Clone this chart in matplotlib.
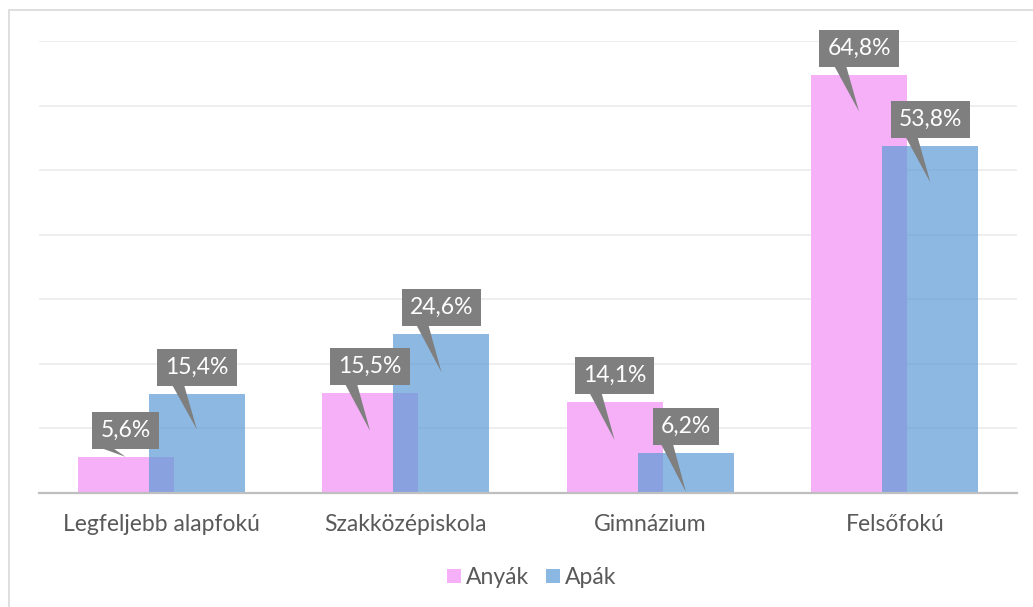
import matplotlib
matplotlib.use("Agg")
import matplotlib.pyplot as plt
from matplotlib.patches import Rectangle, Polygon
from matplotlib.transforms import IdentityTransform
from matplotlib.lines import Line2D
import numpy as np

categories = ["Legfeljebb alapfokú", "Szakközépiskola", "Gimnázium", "Felsőfokú"]
anyak = [5.6, 15.5, 14.1, 64.8]
apak = [15.4, 24.6, 6.2, 53.8]
series_names = ["Anyák", "Apák"]

# callout tip offsets below bar top (pixels), layout only
tip_off_anyak = [0, 38, 38, 37]
tip_off_apak = [36, 38, 39, 37]

plt.rcParams['font.family'] = ['Lato', 'DejaVu Sans']
W, H = 1033, 607
fig = plt.figure(figsize=(W / 100, H / 100), dpi=100)
ax = fig.add_axes([39 / W, (H - 493) / H, (1017 - 39) / W, (493 - 41) / H])

pink = (245 / 255, 176 / 255, 247 / 255)
blue = (92 / 255, 155 / 255, 213 / 255)
txt_col = "#595959"
fs = 16.5

x = np.arange(len(categories))
bw = 0.393
off = 0.146
ax.bar(x - off, anyak, bw, color=pink, zorder=2)
ax.bar(x + off, apak, bw, color=blue, alpha=0.7, zorder=3)

ax.set_xlim(-0.5, len(categories) - 0.5)
ax.set_ylim(0, 70)
ax.set_yticks(np.arange(10, 71, 10))
ax.yaxis.grid(True, color="#EBEBEB", lw=1.2, zorder=0)
ax.tick_params(axis='y', left=False, labelleft=False)
ax.set_xticks(x)
ax.set_xticklabels(categories, fontsize=fs, color=txt_col)
ax.tick_params(axis='x', length=0, pad=15)
for s in ["top", "left", "right"]:
    ax.spines[s].set_visible(False)
ax.spines["bottom"].set_color("#BFBFBF")
ax.spines["bottom"].set_linewidth(1.6)
ax.spines["bottom"].set_zorder(4)

# chart area border (cropped)
fig.add_artist(Rectangle((9, -20), 1100, H - 10 + 20, transform=IdentityTransform(),
                         fill=False, ec="#D9D9D9", lw=1.2))

renderer = fig.canvas.get_renderer()
box_col = "#7F7F7F"


def callout(xc, val, tipoff):
    px, py = ax.transData.transform((xc, val))
    cy = py + 26.5
    t = fig.text(px, cy, f"{val:.1f}%".replace(".", ","), transform=IdentityTransform(),
                 ha="center", va="center", color="white", fontsize=fs, zorder=11)
    bb = t.get_window_extent(renderer)
    bw_ = bb.width + 16
    bh = 37
    fig.add_artist(Rectangle((px - bw_ / 2, cy - bh / 2), bw_, bh, transform=IdentityTransform(),
                             fc=box_col, ec="none", zorder=10))
    bottom = cy - bh / 2
    tipy = py - tipoff
    if tipoff < 5:
        tipy = py
    fig.add_artist(Polygon([(px - 25, bottom + 1), (px - 13, bottom + 1), (px, tipy)],
                           closed=True, transform=IdentityTransform(),
                           fc=box_col, ec="none", zorder=10))


for i in range(len(categories)):
    callout(x[i] - off, anyak[i], tip_off_anyak[i])
    callout(x[i] + off, apak[i], tip_off_apak[i])

handles = [Line2D([], [], marker="s", ls="none", markersize=10, color=pink, markeredgewidth=0),
           Line2D([], [], marker="s", ls="none", markersize=10,
                  color=(138 / 255, 184 / 255, 226 / 255), markeredgewidth=0)]
fig.legend(handles, series_names, loc="center", bbox_to_anchor=(530 / W, 1 - 578 / H),
           ncol=2, frameon=False, fontsize=fs, handletextpad=0.05, columnspacing=0.6,
           handlelength=0.9, labelcolor=txt_col)

fig.savefig("out.png", dpi=100)
